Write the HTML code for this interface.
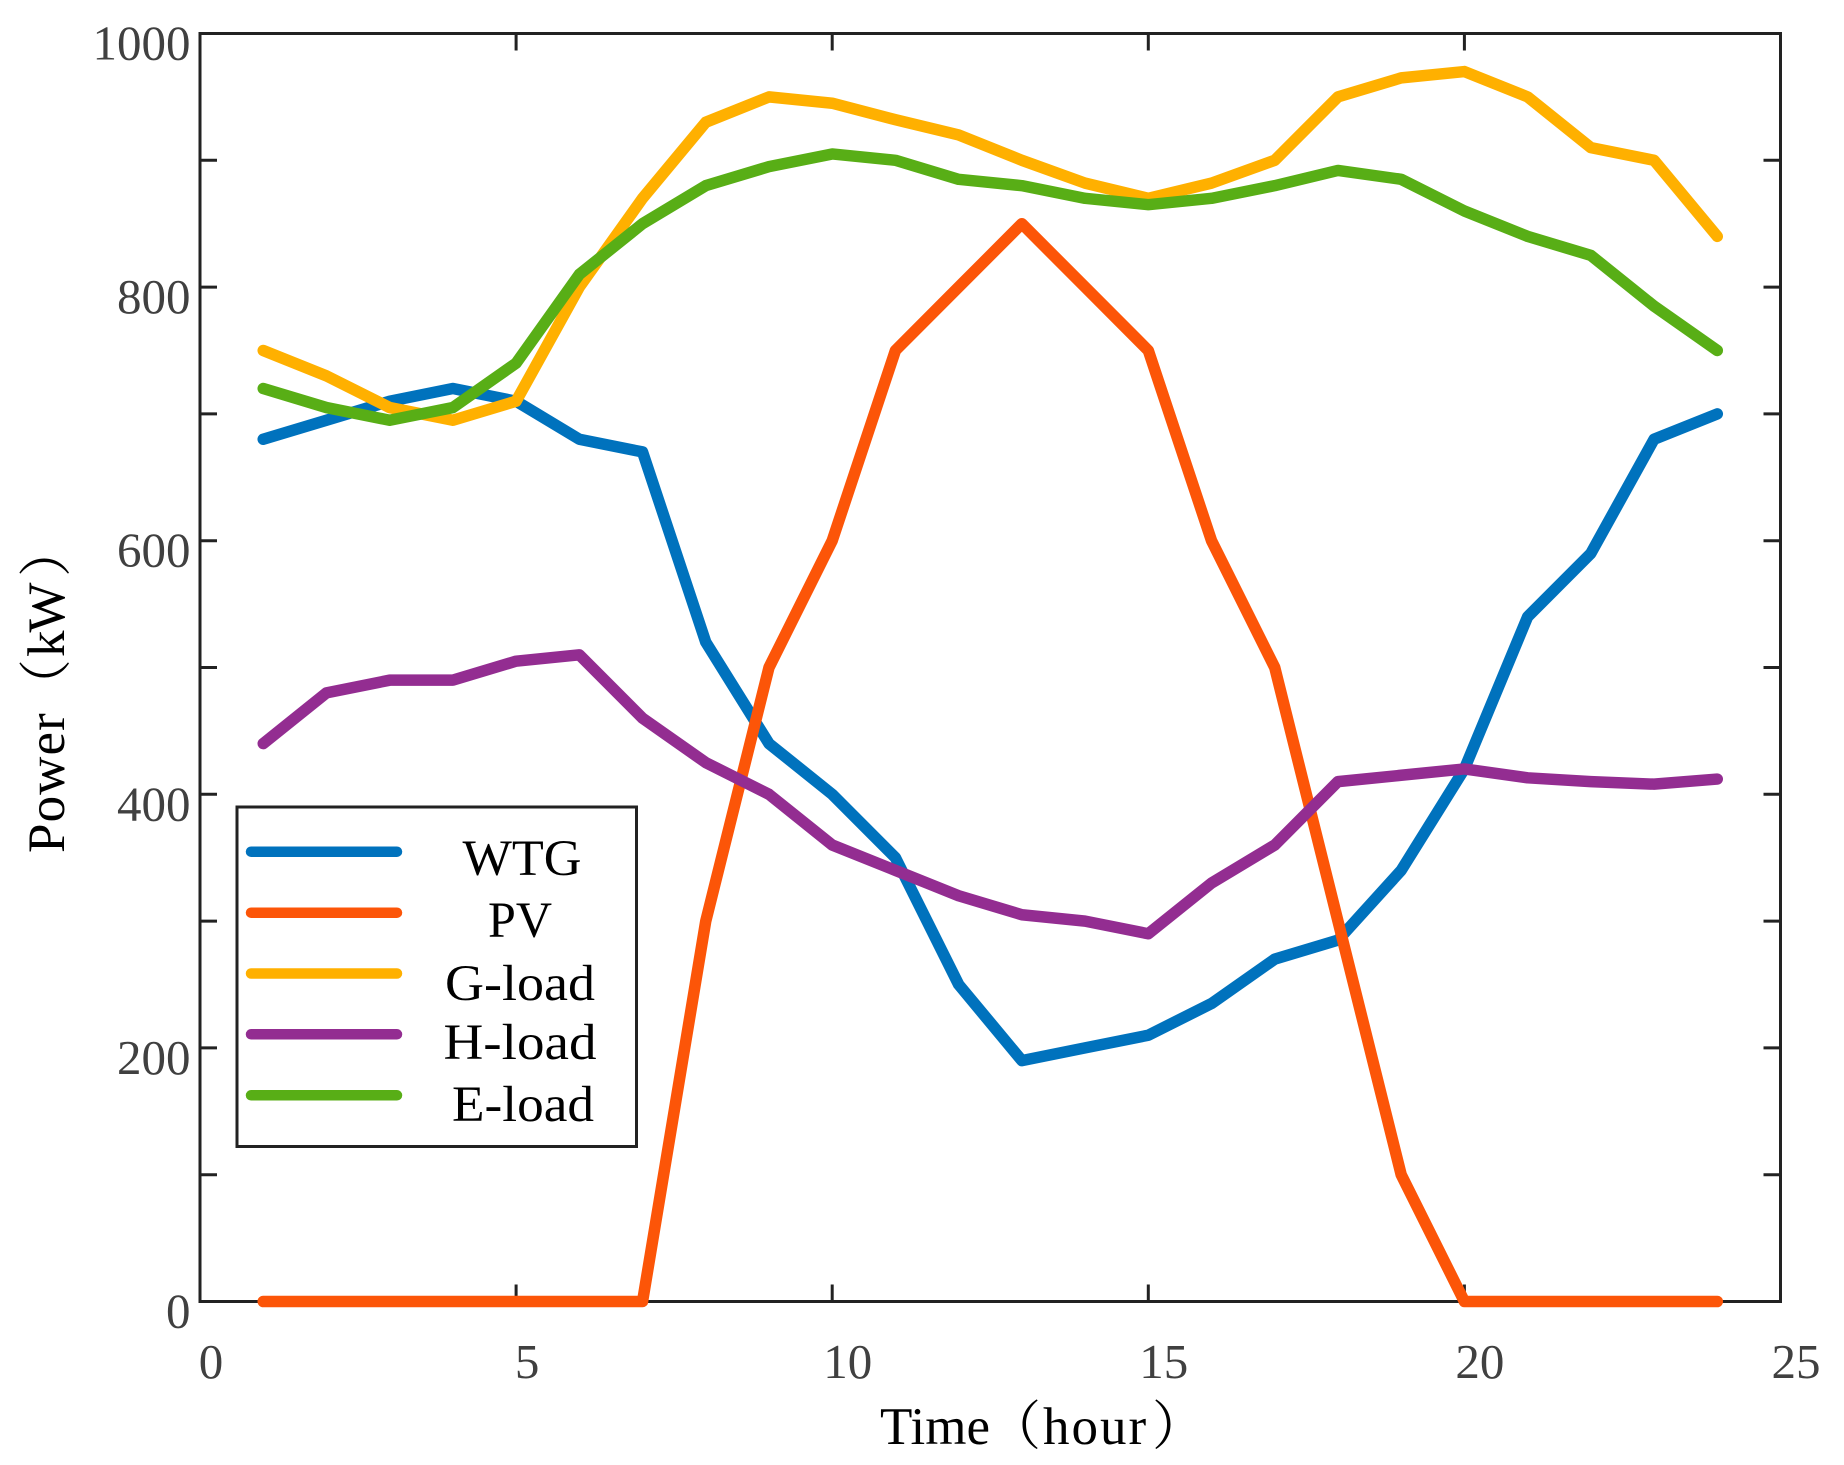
<!DOCTYPE html>
<html lang="en">
<head>
<meta charset="utf-8">
<title>Power vs Time</title>
<style>
html,body{margin:0;padding:0;background:#fff;}
body{width:1844px;height:1465px;overflow:hidden;}
svg{display:block;}
text{font-family:"Liberation Serif","Noto Serif CJK SC",serif;}
</style>
</head>
<body>
<svg id="chart" xmlns="http://www.w3.org/2000/svg" width="1844" height="1465" viewBox="0 0 1844 1465">
  <rect x="0" y="0" width="1844" height="1465" fill="#ffffff"/>
  <g id="ticks"></g>
  <g id="ticklabels"></g>
  <rect x="200" y="33.5" width="1580.5" height="1268" fill="none" stroke="#222222" stroke-width="3"/>
  <g id="series"></g>
  <text x="880" y="1444" font-size="53" fill="#000"><tspan x="880">Time</tspan><tspan x="988">（</tspan><tspan x="1043" letter-spacing="2">hour</tspan><tspan x="1152">）</tspan></text>
  <text transform="translate(64,853) rotate(-90)" x="0" y="0" font-size="53" fill="#000"><tspan x="0" letter-spacing="1.1">Power</tspan><tspan x="141">（</tspan><tspan x="196" letter-spacing="-2">kW</tspan><tspan x="276">）</tspan></text>
  <g id="legend">
    <rect x="237" y="807" width="399.5" height="339.5" fill="#ffffff" stroke="#222222" stroke-width="3"/>
  </g>
</svg>
<script>
var hours = [1,2,3,4,5,6,7,8,9,10,11,12,13,14,15,16,17,18,19,20,21,22,23,24];
var wtgValues = [680,695,710,720,710,680,670,520,440,400,350,250,190,200,210,235,270,285,340,420,540,590,680,700];
var pvValues = [0,0,0,0,0,0,0,300,500,600,750,800,850,800,750,600,500,300,100,0,0,0,0,0];
var gLoadValues = [750,730,705,695,710,800,870,930,950,945,932,920,900,882,870,882,900,950,965,970,950,910,900,840];
var hLoadValues = [440,480,490,490,505,510,460,425,400,360,340,320,305,300,290,330,360,410,415,420,413,410,408,412];
var eLoadValues = [720,705,695,705,740,810,850,880,895,905,900,885,880,870,865,870,880,892,885,860,840,825,785,750];
var seriesNames = ["WTG","PV","G-load","H-load","E-load"];
var seriesColors = ["#0072BD","#FC5508","#FFB000","#932D91","#58AE16"];
var seriesValues = [wtgValues,pvValues,gLoadValues,hLoadValues,eLoadValues];
var xTicks = [0,5,10,15,20,25];
var yMajorTicks = [0,100,200,300,400,500,600,700,800,900,1000];
var yLabelTicks = [0,200,400,600,800,1000];

var NS = "http://www.w3.org/2000/svg";
var plotLeft = 200, plotRight = 1780.5, plotTop = 33.5, plotBottom = 1301.5;
var xMax = 25, yMax = 1000;
function xScale(v){ return plotLeft + (plotRight - plotLeft) * v / xMax; }
function yScale(v){ return plotBottom - (plotBottom - plotTop) * v / yMax; }
function mk(tag, parent, attrs){
  var el = document.createElementNS(NS, tag);
  for (var k in attrs) el.setAttribute(k, attrs[k]);
  parent.appendChild(el);
  return el;
}
var tickG = document.getElementById("ticks");
var labelG = document.getElementById("ticklabels");
var tickLen = 17;
var tickStyle = {stroke:"#222222","stroke-width":3};

xTicks.forEach(function(t){
  var x = xScale(t);
  var a = mk("line", tickG, {x1:x,x2:x,y1:plotBottom,y2:plotBottom-tickLen,stroke:tickStyle.stroke,"stroke-width":tickStyle["stroke-width"]});
  
  
  var b = mk("line", tickG, {x1:x,x2:x,y1:plotTop,y2:plotTop+tickLen,stroke:tickStyle.stroke,"stroke-width":tickStyle["stroke-width"]});
  
  
  var s = String(t);
  var lab = mk("text", labelG, {x:x+(s.length>1?15.5:11),y:1378,"font-size":49,"text-anchor":"middle",fill:"#404040"});
  lab.textContent = s;
  
  
});
yMajorTicks.forEach(function(t){
  var y = yScale(t);
  var a = mk("line", tickG, {x1:plotLeft,x2:plotLeft+tickLen,y1:y,y2:y,stroke:tickStyle.stroke,"stroke-width":tickStyle["stroke-width"]});
  
  
  var b = mk("line", tickG, {x1:plotRight,x2:plotRight-tickLen,y1:y,y2:y,stroke:tickStyle.stroke,"stroke-width":tickStyle["stroke-width"]});
  
  
});
yLabelTicks.forEach(function(t){
  var lab = mk("text", labelG, {x:190.5,y:yScale(t)+26,"font-size":49,"text-anchor":"end",fill:"#404040"});
  lab.textContent = String(t);
  
  
});

var seriesG = document.getElementById("series");
seriesValues.forEach(function(vals, i){
  var pts = vals.map(function(v, j){ return xScale(hours[j]).toFixed(2) + "," + yScale(v).toFixed(2); }).join(" ");
  var line = mk("polyline", seriesG, {points:pts,fill:"none",stroke:seriesColors[i],"stroke-width":11.5,"stroke-linecap":"round","stroke-linejoin":"round"});
  
  
});

var legendG = document.getElementById("legend");
var legendLineY = [851.7,912.7,973.5,1034.3,1095.3];
var legendBase = [875,937,1000,1059,1121];
var legendCenter = [522,520,520,520,523];
var legendWidths = [119,64,150,153,142];
seriesNames.forEach(function(n, i){
  var l = mk("line", legendG, {x1:251,x2:397,y1:legendLineY[i],y2:legendLineY[i],stroke:seriesColors[i],"stroke-width":10.5,"stroke-linecap":"round"});
  
  
  var t = mk("text", legendG, {x:legendCenter[i],y:legendBase[i],"font-size":51,"text-anchor":"middle",fill:"#000",textLength:legendWidths[i],lengthAdjust:"spacingAndGlyphs"});
  t.textContent = n;
  
  
});
</script>
</body>
</html>
